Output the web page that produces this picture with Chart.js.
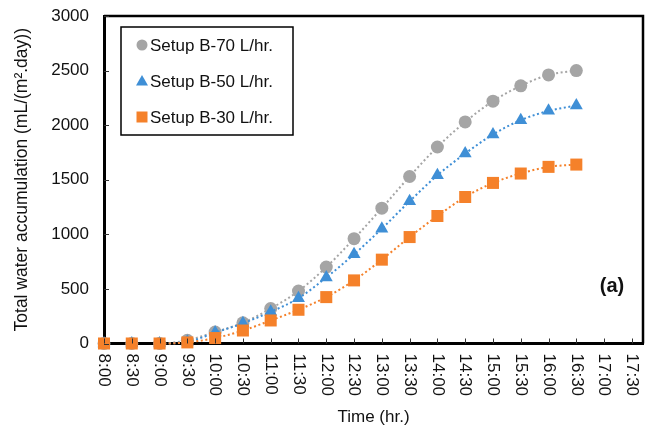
<!DOCTYPE html>
<html>
<head>
<meta charset="utf-8">
<script src="https://cdn.jsdelivr.net/npm/chart.js@4"></script>
<style>
html,body{margin:0;padding:0;background:#fff;}
#wrap{width:652px;height:431px;position:relative;}
</style>
</head>
<body>
<div id="wrap"><canvas id="c" width="652" height="431"></canvas></div>
<script>
const timeLabels = ['8:00','8:30','9:00','9:30','10:00','10:30','11:00','11:30','12:00','12:30','13:00','13:30','14:00','14:30','15:00','15:30','16:00','16:30','17:00','17:30'];
const sampleTimes = ['8:00','8:30','9:00','9:30','10:00','10:30','11:00','11:30','12:00','12:30','13:00','13:30','14:00','14:30','15:00','15:30','16:00','16:30'];
const setupB70 = [0,0,0,30,105,190,320,480,700,960,1240,1530,1800,2030,2220,2360,2460,2500];
const setupB50 = [0,0,0,15,100,185,290,415,605,817,1052,1303,1541,1740,1915,2046,2131,2180];
const setupB30 = [0,0,0,10,50,119,211,309,425,578,768,975,1168,1342,1471,1557,1618,1639];
const yTicks = [0,500,1000,1500,2000,2500,3000];
const seriesNames = ['Setup B-70 L/hr.','Setup B-50 L/hr.','Setup B-30 L/hr.'];

const FONT = '"Liberation Sans", Arial, sans-serif';
const TXT = '#111';
const toPts = arr => arr.map((v,i)=>({x: timeLabels.indexOf(sampleTimes[i]), y: v}));
const hideFlat = ctx => (ctx.p0.parsed.y === 0 && ctx.p1.parsed.y === 0) ? 'rgba(0,0,0,0)' : undefined;

function ds(label, data, color, style, radius, order){
  return {
    label, data: toPts(data), order,
    showLine: true, borderColor: color, backgroundColor: color,
    borderWidth: 2, borderDash: [2,2.6], cubicInterpolationMode: 'monotone',
    pointStyle: style, pointRadius: radius, pointHoverRadius: radius,
    pointBorderWidth: 0, pointBorderColor: color, clip: false,
    segment: { borderColor: hideFlat }
  };
}

const framePlugin = {
  id: 'frame',
  afterDatasetsDraw(chart){
    const {ctx, chartArea: a, scales:{x, y}} = chart;
    ctx.save();
    ctx.strokeStyle = '#000';
    ctx.lineWidth = 2.5;
    ctx.beginPath();
    ctx.moveTo(a.left, a.top); ctx.lineTo(a.right, a.top); ctx.lineTo(a.right, a.bottom);
    ctx.stroke();
    ctx.lineWidth = 1;
    ctx.strokeStyle = '#333';
    y.ticks.forEach(t => {
      const py = Math.round(y.getPixelForValue(t.value)) + 0.5;
      ctx.beginPath(); ctx.moveTo(a.left, py); ctx.lineTo(a.left + 5, py); ctx.stroke();
    });
    x.ticks.forEach(t => {
      const px = Math.round(x.getPixelForValue(t.value)) + 0.5;
      ctx.beginPath(); ctx.moveTo(px, a.bottom); ctx.lineTo(px, a.bottom - 5); ctx.stroke();
    });
    ctx.fillStyle = TXT;
    ctx.font = '17px ' + FONT;
    ctx.textAlign = 'left';
    ctx.textBaseline = 'middle';
    x.ticks.forEach(t => {
      const px = x.getPixelForValue(t.value);
      ctx.save();
      ctx.translate(px, a.bottom + 10);
      ctx.rotate(Math.PI / 2);
      ctx.fillText(timeLabels[t.value], 0, 0);
      ctx.restore();
    });
    ctx.font = 'bold 20px ' + FONT;
    ctx.textAlign = 'center';
    ctx.fillText('(a)', 612, 286);
    const lx = 121, ly = 27, lw = 172, lh = 108;
    ctx.fillStyle = '#fff';
    ctx.fillRect(lx, ly, lw, lh);
    ctx.strokeStyle = '#000';
    ctx.lineWidth = 1.5;
    ctx.strokeRect(lx, ly, lw, lh);
    const rows = [45, 81, 117];
    chart.data.datasets.forEach((d, i) => {
      const cy = rows[i], cx = 142;
      ctx.fillStyle = d.backgroundColor;
      ctx.beginPath();
      if (d.pointStyle === 'circle') { ctx.arc(cx, cy, 5.5, 0, Math.PI*2); }
      else if (d.pointStyle === 'triangle') { ctx.moveTo(cx, cy-6); ctx.lineTo(cx+6, cy+4.5); ctx.lineTo(cx-6, cy+4.5); ctx.closePath(); }
      else { ctx.rect(cx-5.5, cy-5.5, 11, 11); }
      ctx.fill();
      ctx.fillStyle = TXT;
      ctx.font = '17px ' + FONT;
      ctx.textAlign = 'left';
      ctx.textBaseline = 'middle';
      ctx.fillText(d.label, 150, cy + 1);
    });
    ctx.restore();
  }
};

new Chart(document.getElementById('c'), {
  type: 'scatter',
  data: {
    datasets: [
      ds(seriesNames[0], setupB70, '#A5A5A5', 'circle', 6.5, 3),
      ds(seriesNames[1], setupB50, '#3F8FD6', 'triangle', 7.5, 2),
      ds(seriesNames[2], setupB30, '#F5812A', 'rect', 8.5, 1)
    ]
  },
  options: {
    responsive: false,
    animation: false,
    devicePixelRatio: 1,
    layout: { padding: { top: 16, right: 9, left: 0, bottom: 0 } },
    plugins: { legend: { display: false }, tooltip: { enabled: false } },
    scales: {
      x: {
        type: 'linear', min: 0, max: 19.4,
        afterBuildTicks: s => { s.ticks = timeLabels.map((_, i) => ({ value: i })); },
        afterFit: s => { s.height = 87.5; s.paddingLeft = 0; s.paddingRight = 0; },
        grid: { display: true, drawOnChartArea: false, drawTicks: false },
        border: { display: true, color: '#000', width: 3 },
        ticks: { display: false },
        title: { display: true, text: 'Time (hr.)', color: TXT, font: { family: FONT, size: 17 }, padding: { top: 0, bottom: 3 } }
      },
      y: {
        min: 0, max: 3000,
        afterBuildTicks: s => { s.ticks = yTicks.map(v => ({ value: v })); },
        afterFit: s => { s.width = 104; s.paddingTop = 0; s.paddingBottom = 0; },
        grid: { display: true, drawOnChartArea: false, drawTicks: false },
        border: { display: true, color: '#000', width: 3 },
        ticks: { color: TXT, font: { family: FONT, size: 17 }, padding: 15, callback: v => String(v) },
        title: { display: true, text: 'Total water accumulation (mL/(m².day))', color: TXT, font: { family: FONT, size: 17.5 }, padding: { top: 12, bottom: 0 } }
      }
    }
  },
  plugins: [framePlugin]
});
</script>
</body>
</html>
